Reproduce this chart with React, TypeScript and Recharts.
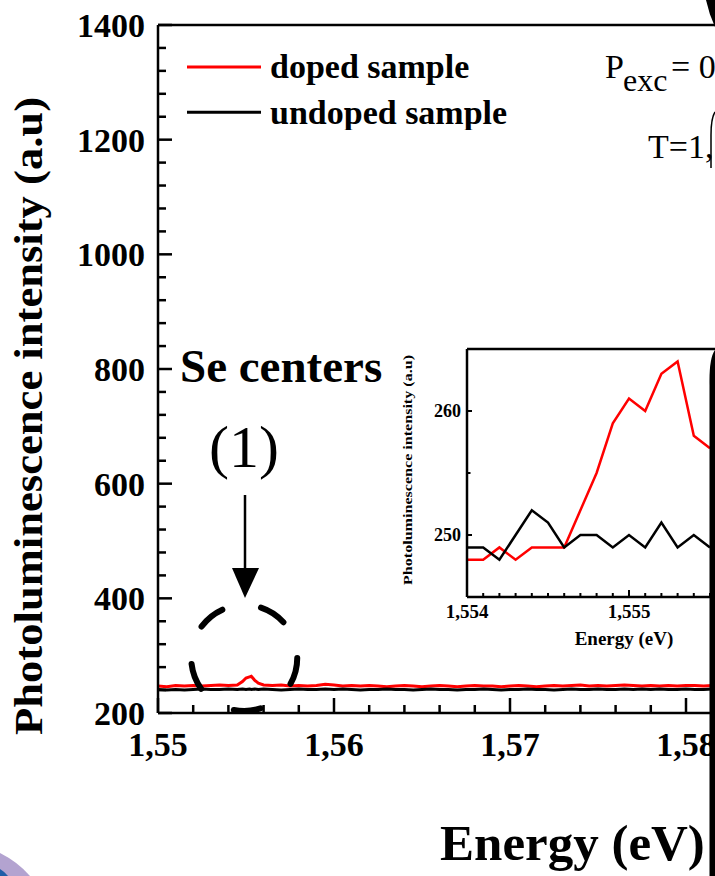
import { LineChart, Line, XAxis, YAxis, Legend, ReferenceLine, ReferenceDot } from 'recharts';

const SERIF = '"Liberation Serif", "Times New Roman", serif';

// main spectrum (eV, a.u.)
const mainEnergy = [
  1.55, 1.5505, 1.551, 1.5515, 1.552, 1.5525, 1.553, 1.5535, 1.554, 1.5545, 1.5548, 1.555, 1.5552, 1.5553,
  1.5555, 1.5557, 1.556, 1.5565, 1.557, 1.5575, 1.558, 1.5585, 1.559, 1.5595, 1.56, 1.5605, 1.561, 1.5615,
  1.562, 1.5625, 1.563, 1.5635, 1.564, 1.5645, 1.565, 1.5655, 1.566, 1.5665, 1.567, 1.5675, 1.568, 1.5685,
  1.569, 1.5695, 1.57, 1.5705, 1.571, 1.5715, 1.572, 1.5725, 1.573, 1.5735, 1.574, 1.5745, 1.575, 1.5755,
  1.576, 1.5765, 1.577, 1.5775, 1.578, 1.5785, 1.579, 1.5795, 1.58, 1.5805, 1.581, 1.5815, 1.582,
];
const mainDoped = [
  247, 246, 248, 247, 248, 247, 248, 249, 248, 249, 255, 261, 263, 264,
  257, 252, 249, 248, 249, 247, 248, 247, 248, 250, 249, 247, 248, 247,
  248, 247, 246, 247, 248, 247, 246, 247, 248, 247, 246, 247, 248, 247,
  247, 246, 247, 248, 247, 246, 247, 248, 247, 248, 249, 247, 248, 247,
  248, 249, 248, 247, 248, 247, 248, 247, 248, 248, 247, 248, 247,
];
const mainUndoped = [
  241, 240, 241, 240, 241, 242, 241, 241, 242, 241, 242, 241, 242, 241,
  242, 241, 242, 241, 240, 241, 242, 241, 241, 242, 241, 242, 241, 240,
  241, 241, 242, 241, 241, 240, 241, 242, 241, 241, 240, 241, 241, 242,
  241, 240, 241, 241, 242, 241, 241, 240, 241, 242, 241, 241, 242, 241,
  241, 242, 241, 242, 241, 242, 241, 241, 242, 241, 241, 242, 241,
];
const mainXTicks = [
  1.55, 1.552, 1.554, 1.556, 1.558, 1.56, 1.562, 1.564, 1.566, 1.568, 1.57,
  1.572, 1.574, 1.576, 1.578, 1.58, 1.582, 1.584, 1.586, 1.588, 1.59,
];
const mainYTicks = [
  200, 240, 280, 320, 360, 400, 440, 480, 520, 560, 600, 640, 680, 720, 760, 800,
  840, 880, 920, 960, 1000, 1040, 1080, 1120, 1160, 1200, 1240, 1280, 1320, 1360, 1400,
];

// inset zoom on the Se line
const insetEnergy = [
  1.554, 1.5541, 1.5542, 1.5543, 1.5544, 1.5545, 1.5546, 1.5547,
  1.5548, 1.5549, 1.555, 1.5551, 1.5552, 1.5553, 1.5554, 1.5555,
];
const insetDoped = [248, 248, 249, 248, 249, 249, 249, 252, 255, 259, 261, 260, 263, 264, 258, 257];
const insetUndoped = [249, 249, 248, 250, 252, 251, 249, 250, 250, 249, 250, 249, 251, 249, 250, 249];
const insetXTicks = [
  1.554, 1.5541, 1.5542, 1.5543, 1.5544, 1.5545, 1.5546, 1.5547, 1.5548, 1.5549, 1.555,
  1.5551, 1.5552, 1.5553, 1.5554, 1.5555,
];
const insetYTicks = [250, 255, 260];

const mainData = mainEnergy.map((energy, i) => ({ energy, doped: mainDoped[i], undoped: mainUndoped[i] }));
const insetData = insetEnergy.map((energy, i) => ({ energy, doped: insetDoped[i], undoped: insetUndoped[i] }));

const isStep = (v: number, k: number) => Math.abs(v * k - Math.round(v * k)) < 1e-6;

function MainXTick({ x, y, payload }: any) {
  const v = payload.value;
  const major = isStep(v, 100);
  return (
    <g>
      <line x1={x} x2={x} y1={y} y2={y - (major ? 15 : 8)} stroke="#000" strokeWidth={2.5} />
      {major && (
        <text x={x} y={y + 43} textAnchor="middle" fontFamily={SERIF} fontWeight="bold" fontSize={34} fill="#000">
          {v.toFixed(2).replace('.', ',')}
        </text>
      )}
    </g>
  );
}

function MainYTick({ x, y, payload }: any) {
  const v = payload.value;
  const major = v % 200 === 0;
  return (
    <g>
      <line x1={x} x2={x + (major ? 14 : 8)} y1={y} y2={y} stroke="#000" strokeWidth={2.5} />
      {major && (
        <text x={x - 13} y={y + 12} textAnchor="end" fontFamily={SERIF} fontWeight="bold" fontSize={34} fill="#000">
          {v}
        </text>
      )}
    </g>
  );
}

function InsetXTick({ x, y, payload }: any) {
  const v = payload.value;
  const major = isStep(v, 1000);
  return (
    <g>
      <line x1={x} x2={x} y1={y} y2={y - (major ? 7 : 4)} stroke="#000" strokeWidth={2} />
      {major && (
        <text x={x} y={y + 21} textAnchor="middle" fontFamily={SERIF} fontWeight="bold" fontSize={19} fill="#000">
          {v.toFixed(3).replace('.', ',')}
        </text>
      )}
    </g>
  );
}

function InsetYTick({ x, y, payload }: any) {
  const v = payload.value;
  const major = v % 10 === 0;
  return (
    <g>
      <line x1={x} x2={x + (major ? 5 : 3.5)} y1={y} y2={y} stroke="#000" strokeWidth={2} />
      {major && (
        <text x={x - 6} y={y + 6} textAnchor="end" fontFamily={SERIF} fontWeight="bold" fontSize={18} fill="#000">
          {v}
        </text>
      )}
    </g>
  );
}

function LegendBox({ payload }: any) {
  return (
    <svg width={360} height={90}>
      {(payload || []).map((e: any, i: number) => (
        <g key={e.value}>
          <line x1={7} x2={81} y1={27 + i * 45.3} y2={27 + i * 45.3} stroke={e.color} strokeWidth={3} />
          <text x={90} y={38 + i * 45.5} fontFamily={SERIF} fontWeight="bold" fontSize={34} fill="#000">
            {e.value}
          </text>
        </g>
      ))}
    </svg>
  );
}

export default function App() {
  return (
    <div style={{ position: 'absolute', left: 0, top: 0, width: 715, height: 876, overflow: 'hidden', background: '#fff' }}>
      <LineChart width={900} height={876} data={mainData} margin={{ top: 25, right: 38, bottom: 123, left: 58 }}>
        <XAxis
          dataKey="energy"
          type="number"
          domain={[1.55, 1.59]}
          ticks={mainXTicks}
          interval={0}
          allowDataOverflow
          height={40}
          tickSize={0}
          tickMargin={0}
          tickLine={false}
          axisLine={{ stroke: '#000', strokeWidth: 2.5 }}
          tick={(p: any) => <MainXTick {...p} />}
        />
        <YAxis
          type="number"
          domain={[200, 1400]}
          ticks={mainYTicks}
          interval={0}
          allowDataOverflow
          width={100}
          tickSize={0}
          tickMargin={0}
          tickLine={false}
          axisLine={{ stroke: '#000', strokeWidth: 2.5 }}
          tick={(p: any) => <MainYTick {...p} />}
        />
        <ReferenceLine y={1400} stroke="#000" strokeWidth={2.5} />
        <Legend
          layout="vertical"
          align="center"
          verticalAlign="middle"
          wrapperStyle={{ left: 180, top: 40, width: 360, height: 90 }}
          content={(p: any) => <LegendBox {...p} />}
        />
        <Line dataKey="doped" name="doped sample" stroke="#ff0000" strokeWidth={3} dot={false} isAnimationActive={false} />
        <Line dataKey="undoped" name="undoped sample" stroke="#000" strokeWidth={3} dot={false} isAnimationActive={false} />
        <ReferenceDot
          x={1.5549}
          y={296}
          r={53}
          fill="none"
          stroke="#000"
          strokeWidth={6}
          strokeDasharray="27 39.6"
          strokeLinecap="round"
        />
      </LineChart>

      <div style={{ position: 'absolute', left: 380, top: 340 }}>
        <LineChart width={420} height={320} data={insetData} margin={{ top: 9, right: 9, bottom: 23, left: 27 }}>
          <XAxis
            dataKey="energy"
            type="number"
            domain={[1.554, 1.556]}
            ticks={insetXTicks}
            interval={0}
            allowDataOverflow
            height={40}
            tickSize={0}
            tickMargin={0}
            tickLine={false}
            axisLine={{ stroke: '#000', strokeWidth: 2.5 }}
            tick={(p: any) => <InsetXTick {...p} />}
          />
          <YAxis
            type="number"
            domain={[245, 265]}
            ticks={insetYTicks}
            interval={0}
            allowDataOverflow
            width={60}
            tickSize={0}
            tickMargin={0}
            tickLine={false}
            axisLine={{ stroke: '#000', strokeWidth: 2.5 }}
            tick={(p: any) => <InsetYTick {...p} />}
          />
          <ReferenceLine y={265} stroke="#000" strokeWidth={2.5} />
          <Line dataKey="doped" stroke="#ff0000" strokeWidth={2.5} dot={false} isAnimationActive={false} />
          <Line dataKey="undoped" stroke="#000" strokeWidth={2.5} dot={false} isAnimationActive={false} />
        </LineChart>
      </div>

      <svg width={715} height={876} style={{ position: 'absolute', left: 0, top: 0, pointerEvents: 'none' }}>
        <text
          transform="translate(42,416) rotate(-90)"
          textAnchor="middle"
          fontFamily={SERIF}
          fontWeight="bold"
          fontSize={40}
          textLength={638}
          lengthAdjust="spacingAndGlyphs"
        >
          Photoluminescence intensity (a.u)
        </text>
        <text x={440} y={860} fontFamily={SERIF} fontWeight="bold" fontSize={51}>
          Energy (eV)
        </text>

        <text
          transform="translate(412,470) rotate(-90)"
          textAnchor="middle"
          fontFamily={SERIF}
          fontWeight="bold"
          fontSize={13}
          textLength={230}
          lengthAdjust="spacingAndGlyphs"
        >
          Photoluminescence intensity (a.u)
        </text>
        <text x={624} y={645} textAnchor="middle" fontFamily={SERIF} fontWeight="bold" fontSize={19}>
          Energy (eV)
        </text>

        <text x={180} y={382} fontFamily={SERIF} fontWeight="bold" fontSize={47}>
          Se centers
        </text>
        <text x={244} y={467} textAnchor="middle" fontFamily={SERIF} fontSize={60}>
          (1)
        </text>
        <line x1={245} x2={245} y1={495} y2={572} stroke="#000" strokeWidth={2.5} />
        <polygon points="232,568 259,568 245,598" fill="#000" />

        <text x={605} y={78} fontFamily={SERIF} fontSize={34}>P</text>
        <text x={623} y={91} fontFamily={SERIF} fontSize={32}>exc</text>
        <text x={671} y={78} fontFamily={SERIF} fontSize={34}>= 0</text>
        <text x={648} y={158} fontFamily={SERIF} fontSize={34}>T=1,</text>

        <path d="M 706 0 L 715 0 L 715 27 Q 709 14 706 0 Z" fill="#000" />
        <path d="M 715 112 Q 711 118 711 135 L 711 168" fill="none" stroke="#000" strokeWidth={1.5} />
        <path d="M 715 350 Q 709 358 709.5 385 L 709.5 876 L 715 876 Z" fill="#000" />

        <path d="M 0 853 Q 18 862 30 876 L 0 876 Z" fill="#b3a3d0" />
        <path d="M 0 869 Q 5 872 8 876 L 0 876 Z" fill="#1f5ea8" />
      </svg>
    </div>
  );
}
